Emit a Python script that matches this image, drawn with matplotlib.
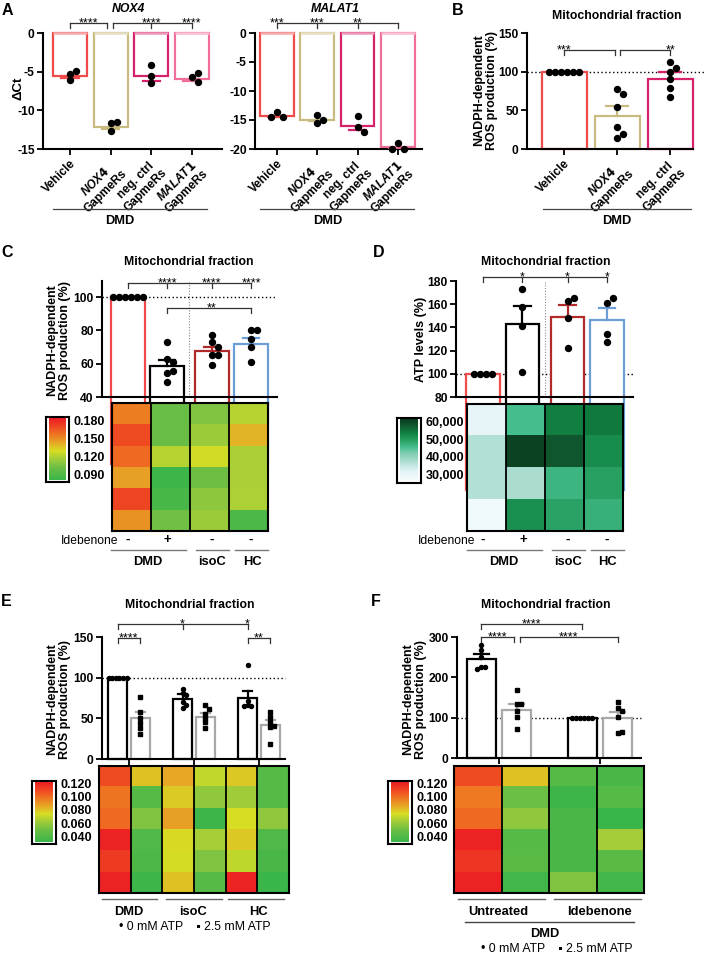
import numpy as np
import matplotlib
matplotlib.use("Agg")
import matplotlib.pyplot as plt
from matplotlib.colors import LinearSegmentedColormap, Normalize, to_rgb
from matplotlib.lines import Line2D
from matplotlib.transforms import blended_transform_factory

plt.rcParams['font.family'] = ['Liberation Sans', 'DejaVu Sans']
plt.rcParams['font.weight'] = 'bold'
plt.rcParams['axes.unicode_minus'] = False
plt.rcParams['mathtext.fontset'] = 'custom'
plt.rcParams['mathtext.it'] = 'Liberation Sans:italic:bold'

W, H = 705, 955

# ---------------------------------------------------------------- data
# A: delta Ct after GapmeR knock-down (DMD)
a_labels = ["Vehicle", "$\\mathit{NOX4}$\nGapmeRs", "neg. ctrl\nGapmeRs", "$\\mathit{MALAT1}$\nGapmeRs"]
nox4_mean = [-5.6, -12.1, -5.6, -5.9]
nox4_sem = [0.25, 0.3, 0.55, 0.25]
nox4_pts = [[-5.3, -6.1, -4.9], [-11.6, -12.7, -11.5], [-4.2, -5.6, -6.5], [-5.7, -6.4, -5.2]]
malat1_mean = [-14.3, -15.0, -16.0, -19.7]
malat1_sem = [0.15, 0.25, 0.7, 0.3]
malat1_pts = [[-13.6, -14.4, -14.4], [-15.5, -14.2, -15.0], [-14.3, -16.2, -17.1], [-19.0, -20.0, -20.0]]

# B: NADPH-dependent ROS, GapmeRs
b_labels = ["Vehicle", "$\\mathit{NOX4}$\nGapmeRs", "neg. ctrl\nGapmeRs"]
b_mean = [100, 43, 91]
b_sem = [0, 12, 8]
b_pts = [[100, 100, 100, 100, 100, 100], [78, 71, 54, 29, 14, 19], [112, 105, 99, 90, 79, 67]]

# C: ROS, DMD -/+ idebenone, isoC, HC
c_mean = [100, 58.5, 67.6, 71.8]
c_sem = [0, 3.5, 2.6, 3.6]
c_pts = [[100, 100, 100, 100, 100, 100], [73, 62.5, 61, 54.5, 55.5, 49],
         [77, 73, 70, 65, 65, 59], [80, 80, 75, 70, 61]]
c_heat = [[0.157, 0.172, 0.163, 0.147, 0.174, 0.151],
          [0.100, 0.100, 0.122, 0.082, 0.086, 0.103],
          [0.107, 0.115, 0.129, 0.102, 0.111, 0.115],
          [0.122, 0.142, 0.119, 0.119, 0.120, 0.088]]
c_cbar_ticks = [0.180, 0.150, 0.120, 0.090]

# D: ATP levels
d_mean = [100, 143, 149, 146.5]
d_sem = [0, 15.5, 10.5, 10]
d_pts = [[100, 100, 100, 100], [173, 158, 141, 101.5], [163, 165, 148.5, 122.5], [161, 165, 134.5, 127.5]]
d_heat = [[30850, 37200, 37200, 27900],
          [46500, 62500, 37950, 52850],
          [55100, 59550, 47650, 50250],
          [55850, 53250, 50600, 48400]]
d_cbar_ticks = [60000, 50000, 40000, 30000]

# E: ROS with 0 / 2.5 mM ATP
e_groups = ["DMD", "isoC", "HC"]
e_mean0 = [100, 73.5, 75.5]
e_sem0 = [0, 6, 8.5]
e_pts0 = [[100, 100, 100, 100, 100, 100], [86, 81, 79, 70, 66, 63], [116, 71, 66, 65, 65]]
e_mean25 = [50, 52, 41.5]
e_sem25 = [8, 5, 7]
e_pts25 = [[76, 58, 50, 44, 38, 31], [66, 62, 55, 50, 45, 38], [58, 52, 45, 41, 39, 18]]
e_heat = [[0.112, 0.101, 0.104, 0.124, 0.117, 0.124],
          [0.082, 0.042, 0.055, 0.040, 0.039, 0.033],
          [0.088, 0.080, 0.090, 0.077, 0.075, 0.082],
          [0.071, 0.059, 0.033, 0.065, 0.055, 0.042],
          [0.081, 0.063, 0.076, 0.081, 0.070, 0.124],
          [0.042, 0.042, 0.059, 0.040, 0.037, 0.031]]

# F: ROS, untreated vs idebenone (DMD)
f_groups = ["Untreated", "Idebenone"]
f_mean0 = [245, 100]
f_sem0 = [12, 0]
f_pts0 = [[279, 268, 250, 226, 226, 220], [100, 100, 100, 100, 100, 100]]
f_mean25 = [120, 99]
f_sem25 = [15, 14]
f_pts25 = [[168, 135, 133, 116, 101, 72], [138, 123, 117, 101, 63, 64]]
f_heat = [[0.112, 0.100, 0.104, 0.124, 0.118, 0.124],
          [0.082, 0.050, 0.059, 0.042, 0.043, 0.035],
          [0.042, 0.033, 0.037, 0.037, 0.037, 0.055],
          [0.037, 0.042, 0.031, 0.064, 0.043, 0.035]]
ef_cbar_ticks = [0.120, 0.100, 0.080, 0.060, 0.040]

# ---------------------------------------------------------------- styles
red, khaki, crimson, pink = '#F04B4B', '#C9BA80', '#D6226A', '#F06E9C'
darkred, blue, gray = '#B12A2A', '#6B9ED6', '#A8A8A8'

ros_cmap = LinearSegmentedColormap.from_list('ros', [
    (0.0, '#39B54A'), (0.2, '#6DBE45'), (0.35, '#A6CE39'), (0.47, '#D7DF23'),
    (0.6, '#E6A826'), (0.75, '#F07022'), (0.88, '#EF4123'), (1.0, '#ED1C24')])
atp_cmap = LinearSegmentedColormap.from_list('atp', [
    (0.0, '#F7FCFD'), (0.15, '#E5F5F9'), (0.3, '#B2E0D6'), (0.45, '#7FCDB0'),
    (0.55, '#45BE8E'), (0.68, '#239B5A'), (0.78, '#108040'), (0.9, '#10562E'), (1.0, '#0A3F20')])

TICK = 8.7
TITLE = 8.8
YLAB = 9
GROUP = 9.3

fig = plt.figure(figsize=(W / 100, H / 100), dpi=100)


def add_ax(l, t, r, b):
    return fig.add_axes([l / W, 1 - b / H, (r - l) / W, (b - t) / H])


def ftext(x, y, s, **kw):
    kw.setdefault('ha', 'center')
    kw.setdefault('va', 'center')
    fig.text(x / W, 1 - y / H, s, **kw)


def fline(x0, x1, y, color='#444444', lw=0.9):
    fig.add_artist(Line2D([x0 / W, x1 / W], [1 - y / H, 1 - y / H], color=color, lw=lw))


def ydat(ax, ypx):
    return ax.transData.inverted().transform((0, H - ypx))[1]


def light(c):
    return tuple(np.array(to_rgb(c)) * 0.45 + 0.55)


def swarm(vals, ppy, d):
    # scatter offsets in px, roughly like GraphPad does it
    offs = [None] * len(vals)
    placed = []
    for v in set(vals):
        idx = [i for i, u in enumerate(vals) if u == v]
        if len(idx) > 2:
            for k, i in enumerate(idx):
                offs[i] = (k - (len(idx) - 1) / 2) * d
                placed.append((offs[i], v * ppy))
    for i, v in enumerate(vals):
        if offs[i] is not None:
            continue
        for k in (0, 1, -1, 2, -2, 3, -3):
            x = k * d
            if all(np.hypot(x - px, v * ppy - py) >= d - 0.01 for px, py in placed):
                break
        offs[i] = x
        placed.append((x, v * ppy))
    return np.array(offs)


def make_ax(rect, xlim, ylim, yticks):
    ax = add_ax(*rect)
    ax.set_xlim(xlim)
    ax.set_ylim(ylim)
    ax.set_yticks(yticks)
    ax.spines[['top', 'right']].set_visible(False)
    ax.spines[['left', 'bottom']].set_linewidth(1.5)
    ax.tick_params(direction='out', length=4, width=1.3, labelsize=TICK, pad=2)
    ax.patch.set_alpha(0)
    ax.ppx = (rect[2] - rect[0]) / (xlim[1] - xlim[0])
    ax.ppy = (rect[3] - rect[1]) / (ylim[1] - ylim[0])
    return ax


def draw_bars(ax, xs, means, sems, pts, colors, width, ms=4.3, d=6, marker='o', top_light=False):
    for x, m, s, p, c in zip(xs, means, sems, pts, colors):
        ax.bar(x, m, width, color='white', edgecolor=c, linewidth=1.6, zorder=2, clip_on=False)
        if top_light:
            ax.plot([x - width / 2, x + width / 2], [0, 0], color=light(c), lw=1.8,
                    zorder=3, solid_capstyle='butt', clip_on=False)
        if s:
            e = m + s if m >= 0 else m - s
            ax.plot([x, x], [m, e], color=c, lw=1.6, zorder=3)
            ax.plot([x - width / 4, x + width / 4], [e, e], color=c, lw=1.6, zorder=3)
        ax.plot(x + swarm(p, ax.ppy, d) / ax.ppx, p, ls='none', marker=marker, ms=ms,
                mfc='black', mec='black', zorder=4, clip_on=False)


def bracket(ax, xs, ypx, stars, drop=5):
    y, y2 = ydat(ax, ypx), ydat(ax, ypx + drop)
    ax.plot([xs[0], xs[-1]], [y, y], color='#333333', lw=0.9, clip_on=False)
    for x in xs:
        ax.plot([x, x], [y, y2], color='#333333', lw=0.9, clip_on=False)
    for x, s in stars:
        ax.annotate(s, (x, y), xytext=(0, -2.5), textcoords='offset points', ha='center',
                    va='baseline', fontsize=9, fontweight='normal', annotation_clip=False)


def dotted100(ax, xend):
    ax.plot([ax.get_xlim()[0], xend], [100, 100], color='black', lw=1, ls=(0, (1, 1.8)),
            zorder=1, clip_on=False)


def heatmap(rect, data, cmap, norm):
    ax = add_ax(*rect)
    ax.imshow(np.array(data).T, cmap=cmap, norm=norm, aspect='auto', interpolation='nearest')
    for j in range(len(data) - 1):
        ax.axvline(j + 0.5, color='black', lw=1.3)
    ax.set_xticks([])
    ax.set_yticks([])
    for s in ax.spines.values():
        s.set_linewidth(1.5)
    return ax


def colorbar(rect, cmap, norm, ylim, ticks, fmt):
    cax = add_ax(*rect)
    span = ylim[1] - ylim[0]
    grad = np.linspace(norm.vmin, norm.vmax, 256).reshape(-1, 1)
    cax.imshow(grad, cmap=cmap, norm=norm, aspect='auto', origin='lower',
               extent=[0.14, 0.86, ylim[0] + 0.03 * span, ylim[1] - 0.03 * span])
    cax.set_xlim(0, 1)
    cax.set_ylim(ylim)
    cax.set_xticks([])
    cax.set_yticks([])
    for s in cax.spines.values():
        s.set_linewidth(1.5)
    tr = blended_transform_factory(cax.transAxes, cax.transData)
    gap = 4.5 / (rect[2] - rect[0])
    for t in ticks:
        cax.text(1 + gap, t, fmt(t), transform=tr, ha='left', va='center', fontsize=9)


def ylabel(x, y, s):
    ftext(x, y, s, rotation=90, fontsize=YLAB, linespacing=1.1, multialignment='center')


def rot_labels(ax, xs, labels):
    ax.set_xticks(xs)
    ax.set_xticklabels(labels, rotation=45, ha='right', rotation_mode='anchor',
                       fontsize=8.5, multialignment='center')


# ---------------------------------------------------------------- A
ax = make_ax((43, 33, 222, 149), (-0.664, 3.74), (-15, 0), [0, -5, -10, -15])
xa = np.arange(4)
draw_bars(ax, xa, nox4_mean, nox4_sem, nox4_pts, [red, khaki, crimson, pink], 0.84, top_light=True)
rot_labels(ax, xa, a_labels)
bracket(ax, [0, 0.92], 23, [(0.45, '****')])
bracket(ax, [1.07, 2, 3], 23, [(2, '****'), (3, '****')])
ftext(128, 9, 'NOX4', fontsize=TITLE, fontstyle='italic')
ftext(18, 88, '\u0394Ct', rotation=90, fontsize=9.5)

ax = make_ax((255, 33, 422, 149), (-0.545, 3.6), (-20, 0), [0, -5, -10, -15, -20])
draw_bars(ax, xa, malat1_mean, malat1_sem, malat1_pts, [red, khaki, crimson, pink], 0.84, top_light=True)
rot_labels(ax, xa, a_labels)
bracket(ax, [0, 1, 2, 3], 23, [(0, '***'), (1, '***'), (2, '**')])
ftext(335, 9, 'MALAT1', fontsize=TITLE, fontstyle='italic')

fline(53, 207, 209)
ftext(120, 221, 'DMD', fontsize=GROUP)
fline(260, 414, 209)
ftext(328, 221, 'DMD', fontsize=GROUP)

# ---------------------------------------------------------------- B
ax = make_ax((527, 33, 693, 149), (-0.70, 2.43), (0, 150), [0, 50, 100, 150])
xb = np.arange(3)
dotted100(ax, 2.66)
draw_bars(ax, xb, b_mean, b_sem, b_pts, [red, khaki, crimson], 0.85)
rot_labels(ax, xb, b_labels)
bracket(ax, [0, 0.95], 50, [(0, '***')])
bracket(ax, [1.05, 2], 50, [(2, '**')])
ftext(617, 16, 'Mitochondrial fraction', fontsize=TITLE)
ylabel(486, 90, 'NADPH-dependent\nROS production (%)')
fline(543, 691, 209)
ftext(617, 221, 'DMD', fontsize=GROUP)

# ---------------------------------------------------------------- C
xc = np.array([0, 1, 2.15, 3.15])
ax = make_ax((102, 281, 277, 397), (-0.666, 3.816), (40, 109.6), [40, 60, 80, 100])
dotted100(ax, 3.816)
ax.axvline(1.575, color='#888888', lw=0.8, ls=(0, (1, 1.5)), zorder=1)
draw_bars(ax, xc, c_mean, c_sem, c_pts, [red, 'black', darkred, blue], 0.85)
ax.set_xticks(xc)
ax.set_xticklabels([])
bracket(ax, list(xc), 283, [(1, '****'), (2.15, '****'), (3.15, '****')])
bracket(ax, [1, 3.15], 308, [(2.15, '**')])
ftext(189, 262, 'Mitochondrial fraction', fontsize=TITLE)
ylabel(59, 340, 'NADPH-dependent\nROS production (%)')

c_norm = Normalize(0.080, 0.188)
heatmap((112, 403, 268, 531), c_heat, ros_cmap, c_norm)
colorbar((46, 417, 69, 482), ros_cmap, c_norm, (0.080, 0.1883), c_cbar_ticks, lambda t: '%.3f' % t)

ftext(118, 541, 'Idebenone', ha='right', fontsize=8.7, fontweight='normal')
for x, s in zip([128, 167, 212, 251], ['-', '+', '-', '-']):
    ftext(x, 540, s, fontsize=9.5)
for x0, x1 in [(111, 186), (196, 229), (235, 268)]:
    fline(x0, x1, 550, color='#777777', lw=1)
ftext(148, 562, 'DMD', fontsize=GROUP)
ftext(212, 562, 'isoC', fontsize=GROUP)
ftext(252, 562, 'HC', fontsize=GROUP)

# ---------------------------------------------------------------- D
ax = make_ax((456, 281, 633, 397), (-0.685, 3.81), (80, 180), [80, 100, 120, 140, 160, 180])
dotted100(ax, 3.81)
ax.axvline(1.575, color='#888888', lw=0.8, ls=(0, (1, 1.5)), zorder=1)
draw_bars(ax, xc, d_mean, d_sem, d_pts, [red, 'black', darkred, blue], 0.85)
ax.set_xticks(xc)
ax.set_xticklabels([])
bracket(ax, list(xc), 277, [(1, '*'), (2.15, '*'), (3.15, '*')])
ftext(546, 262, 'Mitochondrial fraction', fontsize=TITLE)
ylabel(421, 339, 'ATP levels (%)')

d_norm = Normalize(26000, 63300)
heatmap((467, 404, 623, 531), d_heat, atp_cmap, d_norm)
colorbar((397, 418, 421, 483), atp_cmap, d_norm, (26040, 62830), d_cbar_ticks, lambda t: '{:,}'.format(t))

ftext(475, 541, 'Idebenone', ha='right', fontsize=8.7, fontweight='normal')
for x, s in zip([483, 523, 568, 607], ['-', '+', '-', '-']):
    ftext(x, 540, s, fontsize=9.5)
for x0, x1 in [(467, 542), (552, 585), (591, 624)]:
    fline(x0, x1, 550, color='#777777', lw=1)
ftext(504, 562, 'DMD', fontsize=GROUP)
ftext(568, 562, 'isoC', fontsize=GROUP)
ftext(607, 562, 'HC', fontsize=GROUP)

# ---------------------------------------------------------------- E
off, bw = 0.175, 0.29
xe = np.arange(3)
ax = make_ax((102, 637, 285, 759), (-0.415, 2.4), (0, 150), [0, 50, 100, 150])
dotted100(ax, 2.4)
draw_bars(ax, xe - off, e_mean0, e_sem0, e_pts0, ['black'] * 3, bw, ms=2.9, d=3.6)
draw_bars(ax, xe + off, e_mean25, e_sem25, e_pts25, [gray] * 3, bw, ms=2.7, d=4, marker='s')
ax.set_xticks(xe)
ax.set_xticklabels([])
bracket(ax, [-off, 1 - off, 2 - off], 624, [(1 - off, '*'), (2 - off, '*')])
bracket(ax, [-off, off], 638, [(0, '****')])
bracket(ax, [2 - off, 2 + off], 638, [(2, '**')])
ftext(190, 605, 'Mitochondrial fraction', fontsize=TITLE)
ylabel(59, 699, 'NADPH-dependent\nROS production (%)')

ef_norm = Normalize(0.031, 0.126)
heatmap((99, 766, 289, 893), e_heat, ros_cmap, ef_norm)
colorbar((32, 781, 56, 844), ros_cmap, ef_norm, (0.0309, 0.1260), ef_cbar_ticks, lambda t: '%.3f' % t)
for (x0, x1), xm, s in zip([(102, 157), (166, 222), (228, 284)], [129, 193, 258], e_groups):
    fline(x0, x1, 899, color='#666666', lw=1)
    ftext(xm, 912, s, fontsize=GROUP)
ftext(195, 927, '\u2022 0 mM ATP    \u25aa 2.5 mM ATP', fontsize=8.8, fontweight='normal')

# ---------------------------------------------------------------- F
xf = np.arange(2)
ax = make_ax((457, 637, 641, 758), (-0.416, 1.406), (0, 300), [0, 100, 200, 300])
dotted100(ax, 1.406)
draw_bars(ax, xf - off, f_mean0, f_sem0, f_pts0, ['black'] * 2, bw, ms=2.9, d=4)
draw_bars(ax, xf + off, f_mean25, f_sem25, f_pts25, [gray] * 2, bw, ms=2.7, d=4, marker='s')
ax.set_xticks(xf)
ax.set_xticklabels([])
bracket(ax, [-off, 1 - off], 624, [(0.5 - off, '****')])
bracket(ax, [-off, off - 0.03], 637, [(-0.015, '****')])
bracket(ax, [off + 0.03, 1 + off], 637, [(0.5 + off + 0.015, '****')])
ftext(546, 605, 'Mitochondrial fraction', fontsize=TITLE)
ylabel(415, 699, 'NADPH-dependent\nROS production (%)')

heatmap((454, 766, 644, 893), f_heat, ros_cmap, ef_norm)
colorbar((388, 781, 412, 844), ros_cmap, ef_norm, (0.0309, 0.1260), ef_cbar_ticks, lambda t: '%.3f' % t)
for (x0, x1), xm, s in zip([(458, 545), (554, 641)], [498, 600], f_groups):
    fline(x0, x1, 899, color='#666666', lw=1)
    ftext(xm, 912, s, fontsize=GROUP)
fline(465, 634, 922, color='#444444', lw=1)
ftext(545, 934, 'DMD', fontsize=GROUP)
ftext(557, 949, '\u2022 0 mM ATP    \u25aa 2.5 mM ATP', fontsize=8.8, fontweight='normal')

# panel letters
for x, y, s in [(2, 3, 'A'), (452, 3, 'B'), (1, 245, 'C'), (373, 245, 'D'), (1, 594, 'E'), (371, 594, 'F')]:
    ftext(x, y, s, ha='left', va='top', fontsize=11.5)

fig.savefig('out.png', dpi=100)
